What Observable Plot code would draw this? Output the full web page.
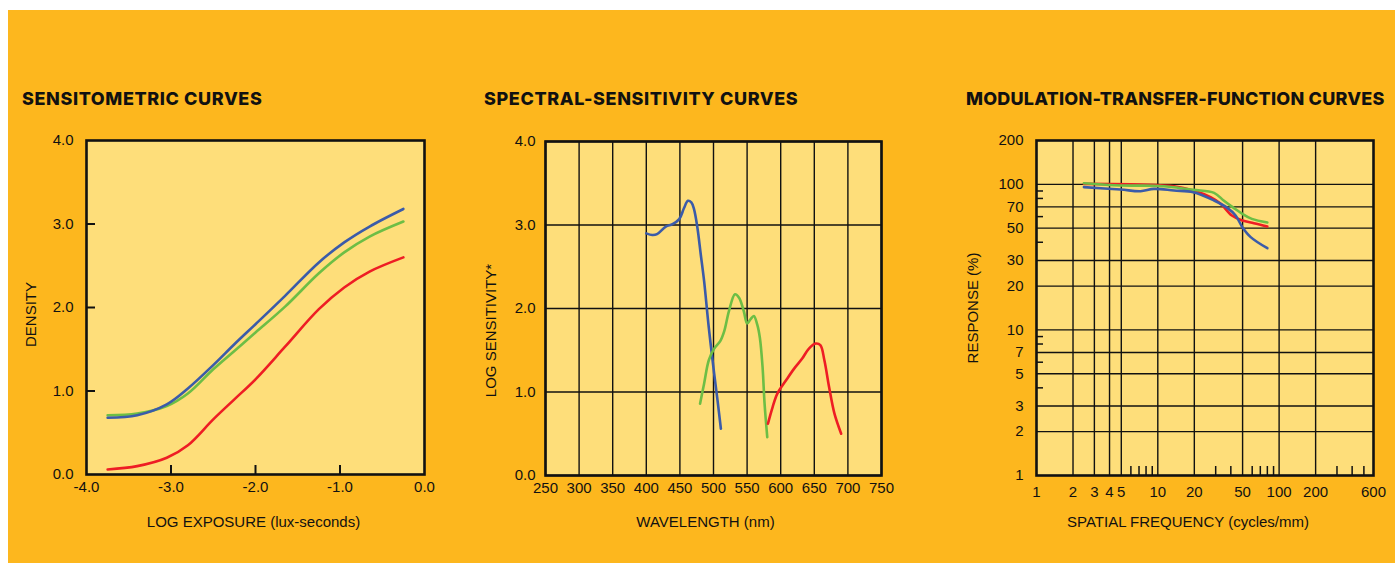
<!DOCTYPE html>
<html>
<head>
<meta charset="utf-8">
<script src="https://cdn.jsdelivr.net/npm/d3@7"></script>
<script src="https://cdn.jsdelivr.net/npm/@observablehq/plot@0.6"></script>
<style>
  html, body { margin: 0; padding: 0; background: #ffffff; }
  body { width: 1395px; height: 563px; position: relative; overflow: hidden; }
  #bg { position: absolute; left: 8px; top: 10px; right: 0; bottom: 0; background: #FDB71E; }
  .title { position: absolute; top: 90px; font-family: Inter, "Noto Sans", sans-serif; font-weight: 800;
           font-size: 18px; line-height: 18px; color: #111; white-space: nowrap; letter-spacing: 0.6px; }
  .panel { position: absolute; top: 120px; }
</style>
</head>
<body>
<div id="bg"></div>
<div class="title" style="left:22px">SENSITOMETRIC CURVES</div>
<div class="title" style="left:484px">SPECTRAL-SENSITIVITY CURVES</div>
<div class="title" style="left:966px; letter-spacing:0.2px">MODULATION-TRANSFER-FUNCTION CURVES</div>
<div class="panel" id="p1" style="left:0px"></div>
<div class="panel" id="p2" style="left:470px"></div>
<div class="panel" id="p3" style="left:940px"></div>
<script>
// ---------- Sensitometric curves ----------
const sensLogE  = [-3.75, -3.4, -3.05, -2.8, -2.5, -2.25, -2.0, -1.65, -1.25, -0.95, -0.65, -0.25];
const sensBlue  = [0.68, 0.71, 0.84, 1.03, 1.31, 1.56, 1.80, 2.14, 2.54, 2.78, 2.97, 3.18];
const sensGreen = [0.71, 0.73, 0.82, 0.97, 1.26, 1.48, 1.70, 2.01, 2.41, 2.66, 2.85, 3.03];
const sensRed   = [0.06, 0.10, 0.20, 0.35, 0.66, 0.90, 1.14, 1.53, 1.98, 2.24, 2.43, 2.60];
const sensXTicks = [-4, -3, -2, -1, 0];
const sensXMarks = [-3, -2, -1];
const sensYTicks = [0, 1, 2, 3, 4];
const sensYMarks = [1, 2, 3];
const sensXLabel = "LOG EXPOSURE (lux-seconds)";
const sensYLabel = "DENSITY";

// ---------- Spectral-sensitivity curves ----------
const specBlueNm   = [400, 409, 416, 429, 439, 449, 456, 462, 467, 471, 476, 481, 486, 493, 501, 506, 511];
const specBlue     = [2.90, 2.88, 2.89, 2.98, 3.01, 3.07, 3.20, 3.29, 3.27, 3.19, 2.97, 2.65, 2.33, 1.77, 1.22, 0.90, 0.56];
const specGreenNm  = [480, 486, 493, 501, 510, 516, 523, 532, 538, 545, 550, 555, 560, 565, 569, 573, 576, 580];
const specGreen    = [0.86, 1.10, 1.38, 1.52, 1.61, 1.73, 1.97, 2.17, 2.13, 1.97, 1.82, 1.87, 1.91, 1.81, 1.65, 1.30, 0.86, 0.46];
const specRedNm    = [581, 588, 595, 608, 620, 632, 642, 652, 659, 665, 672, 680, 690];
const specRed      = [0.62, 0.82, 0.98, 1.14, 1.28, 1.40, 1.52, 1.58, 1.56, 1.38, 1.06, 0.74, 0.50];
const specXTicks = [250, 300, 350, 400, 450, 500, 550, 600, 650, 700, 750];
const specYTicks = [0, 1, 2, 3, 4];
const specXLabel = "WAVELENGTH (nm)";
const specYLabel = "LOG SENSITIVITY*";

// ---------- Modulation-transfer-function curves ----------
const mtfBlueF   = [2.46, 4.93, 7.21, 9.29, 13.6, 19.6, 29.1, 37.4, 43.8, 49.8, 58.3, 80];
const mtfBlue    = [95.6, 92.1, 89.7, 93.0, 90.7, 88.3, 77.4, 68.9, 61.1, 50.8, 43.4, 36.4];
const mtfRedF    = [2.46, 7.21, 13.6, 19.6, 27.2, 33, 40.8, 49.8, 62, 80];
const mtfRed     = [100.7, 99.7, 97.0, 90.7, 81.6, 73.5, 61.1, 56.4, 54.1, 51.3];
const mtfGreenF  = [2.46, 4.93, 9.29, 13.6, 19.6, 29.1, 34.9, 42.2, 49.8, 59.6, 80];
const mtfGreen   = [101.8, 98.2, 97.8, 95.6, 91.6, 87.4, 77.4, 68.9, 62.7, 57.9, 54.7];
const mtfXTicks = [1, 2, 3, 4, 5, 10, 20, 50, 100, 200, 600];
const mtfXGrid  = [2, 3, 4, 5, 10, 20, 50, 100, 200];
const mtfXMarks = [6, 7, 8, 9, 30, 40, 60, 70, 80, 90, 300, 400, 500];
const mtfYTicks = [1, 2, 3, 5, 7, 10, 20, 30, 50, 70, 100, 200];
const mtfYGrid  = [2, 3, 5, 7, 10, 20, 30, 50, 70, 100];
const mtfYMarks = [4, 6, 8, 9, 40, 60, 80, 90];
const mtfXLabel = "SPATIAL FREQUENCY (cycles/mm)";
const mtfYLabel = "RESPONSE (%)";

const BLUE = "#3B5BA9", GREEN = "#6DBE45", RED = "#EE1D24";
const FILL = "#FEDE7A", INK = "#111111";
const style = {background: "transparent", fontFamily: '"Liberation Sans", Arial, sans-serif', fontSize: "15px", color: INK, overflow: "visible"};
const zip = (xs, ys) => xs.map((x, i) => ({x, y: ys[i]}));
const lineOpts = (stroke) => ({x: "x", y: "y", stroke, strokeWidth: 2.6, curve: "catmull-rom"});
const xTitle = (t, dx, dy) => Plot.text([t], {text: d => d, frameAnchor: "bottom", dx, dy, fontSize: 15, fill: INK, textAnchor: "middle", lineAnchor: "middle"});
const yTitle = (t, dx, dy) => Plot.text([t], {text: d => d, frameAnchor: "left", rotate: -90, dx, dy, fontSize: 15, fill: INK, textAnchor: "middle", lineAnchor: "middle"});

// Panel 1
document.getElementById("p1").append(Plot.plot({
  width: 460, height: 420,
  marginLeft: 86, marginRight: 36, marginTop: 20, marginBottom: 66,
  style,
  x: {domain: [-4, 0]},
  y: {domain: [0, 4]},
  marks: [
    Plot.frame({fill: FILL}),
    Plot.line(zip(sensLogE, sensRed), lineOpts(RED)),
    Plot.line(zip(sensLogE, sensGreen), lineOpts(GREEN)),
    Plot.line(zip(sensLogE, sensBlue), lineOpts(BLUE)),
    Plot.axisX(sensXTicks, {tickSize: 0, tickPadding: 7, tickFormat: d => d.toFixed(1), fontSize: 15, label: null}),
    Plot.axisX(sensXMarks, {tickSize: -9, tickFormat: () => "", strokeWidth: 2, label: null}),
    Plot.axisY(sensYTicks, {tickSize: 0, tickPadding: 13, tickFormat: d => d.toFixed(1), fontSize: 15, label: null}),
    Plot.axisY(sensYMarks, {tickSize: -9, tickFormat: () => "", strokeWidth: 2, label: null}),
    xTitle(sensXLabel, -2, 48),
    yTitle(sensYLabel, -55, 7),
    Plot.frame({stroke: INK, strokeWidth: 2.6})
  ]
}));

// Panel 2
document.getElementById("p2").append(Plot.plot({
  width: 450, height: 420,
  marginLeft: 75, marginRight: 39, marginTop: 21, marginBottom: 65,
  style,
  x: {domain: [250, 750]},
  y: {domain: [0, 4]},
  marks: [
    Plot.frame({fill: FILL}),
    Plot.ruleX(specXTicks, {stroke: INK, strokeWidth: 1.4}),
    Plot.ruleY(specYTicks, {stroke: INK, strokeWidth: 1.4}),
    Plot.line(zip(specBlueNm, specBlue), lineOpts(BLUE)),
    Plot.line(zip(specGreenNm, specGreen), lineOpts(GREEN)),
    Plot.line(zip(specRedNm, specRed), lineOpts(RED)),
    Plot.axisX(specXTicks, {tickSize: 0, tickPadding: 7, tickFormat: d => String(d), fontSize: 15, label: null}),
    Plot.axisY(specYTicks, {tickSize: 0, tickPadding: 10, tickFormat: d => d.toFixed(1), fontSize: 15, label: null}),
    xTitle(specXLabel, -8, 47),
    yTitle(specYLabel, -54, 22),
    Plot.frame({stroke: INK, strokeWidth: 2.6})
  ]
}));

// Panel 3
document.getElementById("p3").append(Plot.plot({
  width: 455, height: 420,
  marginLeft: 96, marginRight: 22, marginTop: 20, marginBottom: 65,
  style,
  x: {type: "log", domain: [1, 600]},
  y: {type: "log", domain: [1, 200]},
  marks: [
    Plot.frame({fill: FILL}),
    Plot.ruleX(mtfXGrid, {stroke: INK, strokeWidth: 1.4}),
    Plot.ruleY(mtfYGrid, {stroke: INK, strokeWidth: 1.4}),
    Plot.line(zip(mtfRedF, mtfRed), lineOpts(RED)),
    Plot.line(zip(mtfGreenF, mtfGreen), lineOpts(GREEN)),
    Plot.line(zip(mtfBlueF, mtfBlue), lineOpts(BLUE)),
    Plot.axisX(mtfXMarks, {tickSize: -9, tickFormat: () => "", strokeWidth: 1.5, label: null}),
    Plot.axisY(mtfYMarks, {tickSize: -7, tickFormat: () => "", strokeWidth: 1.5, label: null}),
    Plot.text(mtfXTicks, {x: d => d, text: d => String(d), frameAnchor: "bottom", dy: 17, fontSize: 15, fill: INK, lineAnchor: "middle"}),
    Plot.text(mtfYTicks, {y: d => d, text: d => String(d), frameAnchor: "left", dx: -13, textAnchor: "end", fontSize: 15, fill: INK}),
    xTitle(mtfXLabel, -17, 47),
    yTitle(mtfYLabel, -63, 0),
    Plot.frame({stroke: INK, strokeWidth: 2.6})
  ]
}));
</script>
</body>
</html>
